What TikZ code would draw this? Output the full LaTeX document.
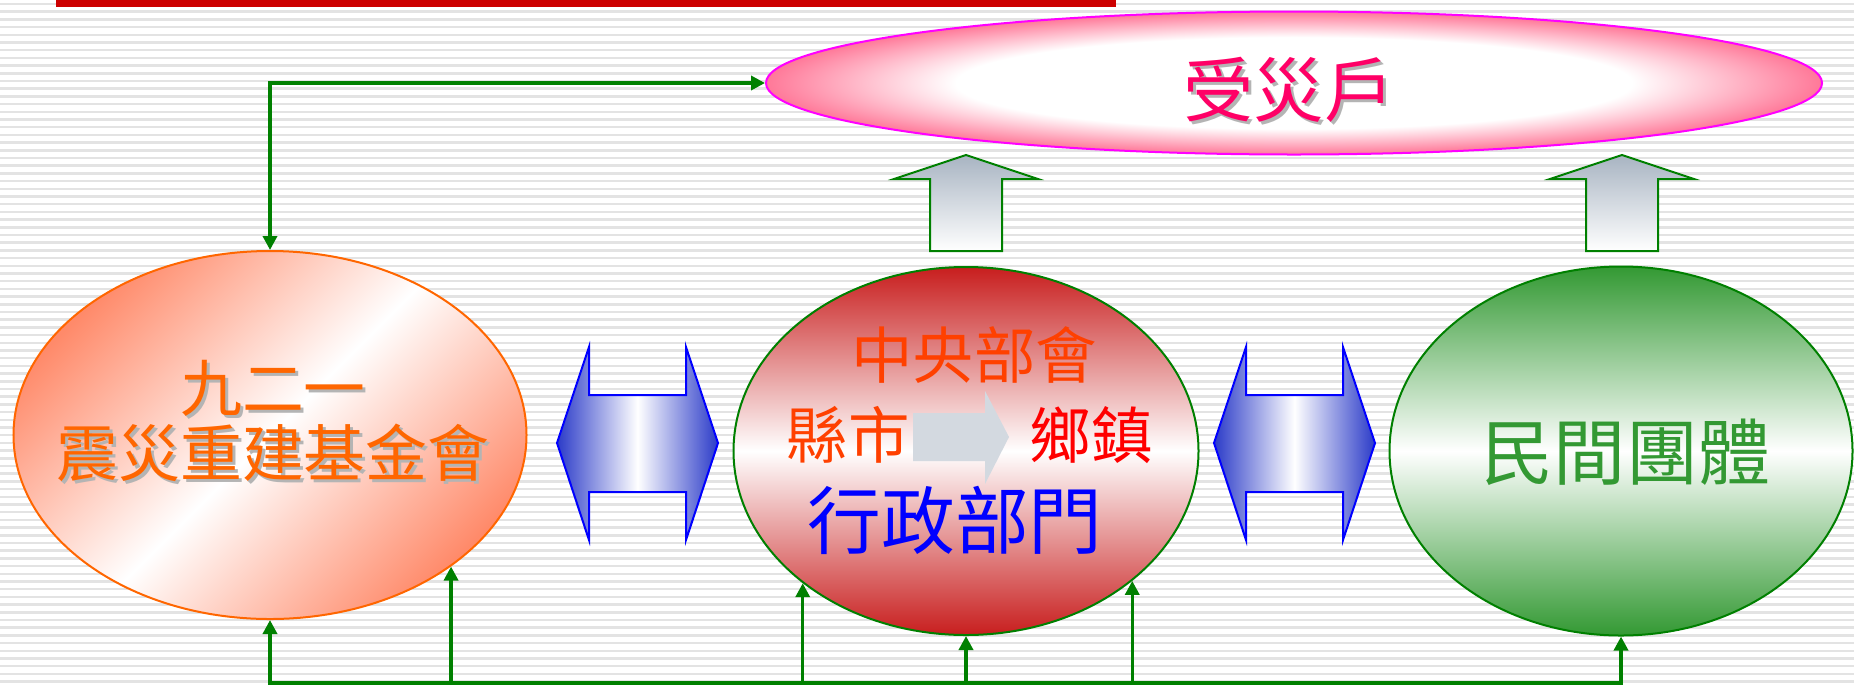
\documentclass[tikz,border=0pt]{standalone}
\usepackage{fontspec}
\newfontfamily\cjk{Noto Sans CJK TC}
\usetikzlibrary{shapes.geometric,arrows.meta}

\definecolor{flowgreen}{HTML}{008000}
\definecolor{titlered}{HTML}{CC0000}
\definecolor{victimpink}{HTML}{FF7898}
\definecolor{victimedge}{HTML}{FF00FF}
\definecolor{victimtext}{HTML}{FF0066}
\definecolor{fundsalmon}{HTML}{FF8A6A}
\definecolor{fundedge}{HTML}{FF6600}
\definecolor{fundtext}{HTML}{FF6600}
\definecolor{adminred}{HTML}{C81E1E}
\definecolor{civilgreen}{HTML}{339933}
\definecolor{arrowgrey}{HTML}{A8B4C2}
\definecolor{linkblue}{HTML}{2B3BC8}
\definecolor{innergrey}{HTML}{D3D9E0}
\definecolor{shadowgrey}{HTML}{B4B4B4}

\pgfdeclareradialshading{victimshade}{\pgfpoint{0bp}{0bp}}{color(0bp)=(white); color(16bp)=(white); color(25bp)=(victimpink); color(50bp)=(victimpink)}

\newcommand{\shadowtext}[2]{\makebox[0pt][l]{\hspace{0.03cm}\raisebox{-0.03cm}{\textcolor{shadowgrey}{#2}}}\textcolor{#1}{#2}}

\tikzset{
  >={Triangle[length=0.14cm,width=0.14cm]},
  stripe/.style={line width=0.025cm, color=black!11},
  bubble/.style={ellipse, inner sep=0pt, line width=0.02cm},
  words/.style={inner sep=0pt, align=center},
  flow/.style={draw=flowgreen, line width=0.035cm},
  uparrow/.style={draw=flowgreen, line width=0.02cm, top color=arrowgrey, bottom color=white},
  linkarrow/.style={draw=blue, line width=0.02cm, left color=linkblue, right color=linkblue, middle color=white},
}

\begin{document}
\begin{tikzpicture}
	%%%%% START %%%%%
	
	\useasboundingbox (0, 0) rectangle (18.54, 6.86);
	\fill[white] (0, 0) rectangle (18.54, 6.86);
	\foreach \k in {0,...,88}
		\draw[stripe] (0, {6.82-0.077*\k}) -- (18.54, {6.82-0.077*\k});
	
	\fill[titlered] (0.56, 6.86) rectangle (11.16, 6.79);
	
	% ellipses
	\node[bubble, draw=victimedge, shading=victimshade, minimum width=10.56cm, minimum height=1.43cm] (victims) at (12.94, 6.03) {};
	\node[bubble, draw=fundedge, top color=fundsalmon, bottom color=fundsalmon, middle color=white, shading angle=45, minimum width=5.13cm, minimum height=3.68cm] (fund) at (2.70, 2.51) {};
	\node[bubble, draw=flowgreen, top color=adminred, bottom color=adminred, middle color=white, minimum width=4.65cm, minimum height=3.68cm] (admin) at (9.66, 2.35) {};
	\node[bubble, draw=flowgreen, top color=civilgreen, bottom color=civilgreen, middle color=white, minimum width=4.63cm, minimum height=3.69cm] (civil) at (16.21, 2.35) {};
	
	% block arrows
	\foreach \xs in {9.66, 16.22}
		\draw[uparrow, shift={(\xs, 0)}] (0, 5.31) -- (0.72, 5.07) -- (0.36, 5.07) -- (0.36, 4.35) -- (-0.36, 4.35) -- (-0.36, 5.07) -- (-0.72, 5.07) -- cycle;
	\foreach \xs in {5.57, 12.14}
		\draw[linkarrow, shift={(\xs, 0)}] (0, 2.43) -- (0.32, 3.39) -- (0.32, 2.91) -- (1.29, 2.91) -- (1.29, 3.39) -- (1.61, 2.43) -- (1.29, 1.46) -- (1.29, 1.94) -- (0.32, 1.94) -- (0.32, 1.46) -- cycle;
	\fill[innergrey] (9.13, 2.73) -- (9.85, 2.73) -- (9.85, 2.95) -- (10.09, 2.49) -- (9.85, 2.02) -- (9.85, 2.25) -- (9.13, 2.25) -- cycle;
	
	% texts
	\node[words, font=\cjk\fontsize{20pt}{22pt}\selectfont] (victims-name) at (12.89, 5.95) {\shadowtext{victimtext}{受災戶}};
	\node[words, font=\cjk\fontsize{17.6pt}{18.5pt}\selectfont] (fund-name) at (2.73, 2.64) {\shadowtext{fundtext}{九二一}\\\shadowtext{fundtext}{震災重建基金會}};
	\node[words, font=\cjk\fontsize{17.5pt}{19pt}\selectfont, text=orange!50!red] (central) at (9.74, 3.31) {中央部會};
	\node[words, font=\cjk\fontsize{17.5pt}{19pt}\selectfont, text=orange!50!red] (county) at (8.48, 2.51) {縣市};
	\node[words, font=\cjk\fontsize{17.5pt}{19pt}\selectfont, text=red] (township) at (10.91, 2.51) {鄉鎮};
	\node[words, font=\cjk\fontsize{21pt}{23pt}\selectfont, text=blue] (admin-name) at (9.55, 1.66) {行政部門};
	\node[words, font=\cjk\fontsize{20.5pt}{22pt}\selectfont, text=civilgreen] (civil-name) at (16.26, 2.34) {民間團體};
	
	% connectors
	\coordinate (bus) at (0, 0.03);
	\draw[flow, <->] (fund.north) |- (victims.west);
	\draw[flow, <->] (fund.south) -- (fund.south |- bus) -- (civil.south |- bus) -- (civil.south);
	\draw[flow, ->] (fund.-36 |- bus) -- (fund.-36);
	\draw[flow, ->] (admin.-141.5 |- bus) -- (admin.-141.5);
	\draw[flow, ->] (admin.south |- bus) -- (admin.south);
	\draw[flow, ->] (admin.-38.5 |- bus) -- (admin.-38.5);
	
	%%%%% END %%%%%
\end{tikzpicture}
\end{document}
